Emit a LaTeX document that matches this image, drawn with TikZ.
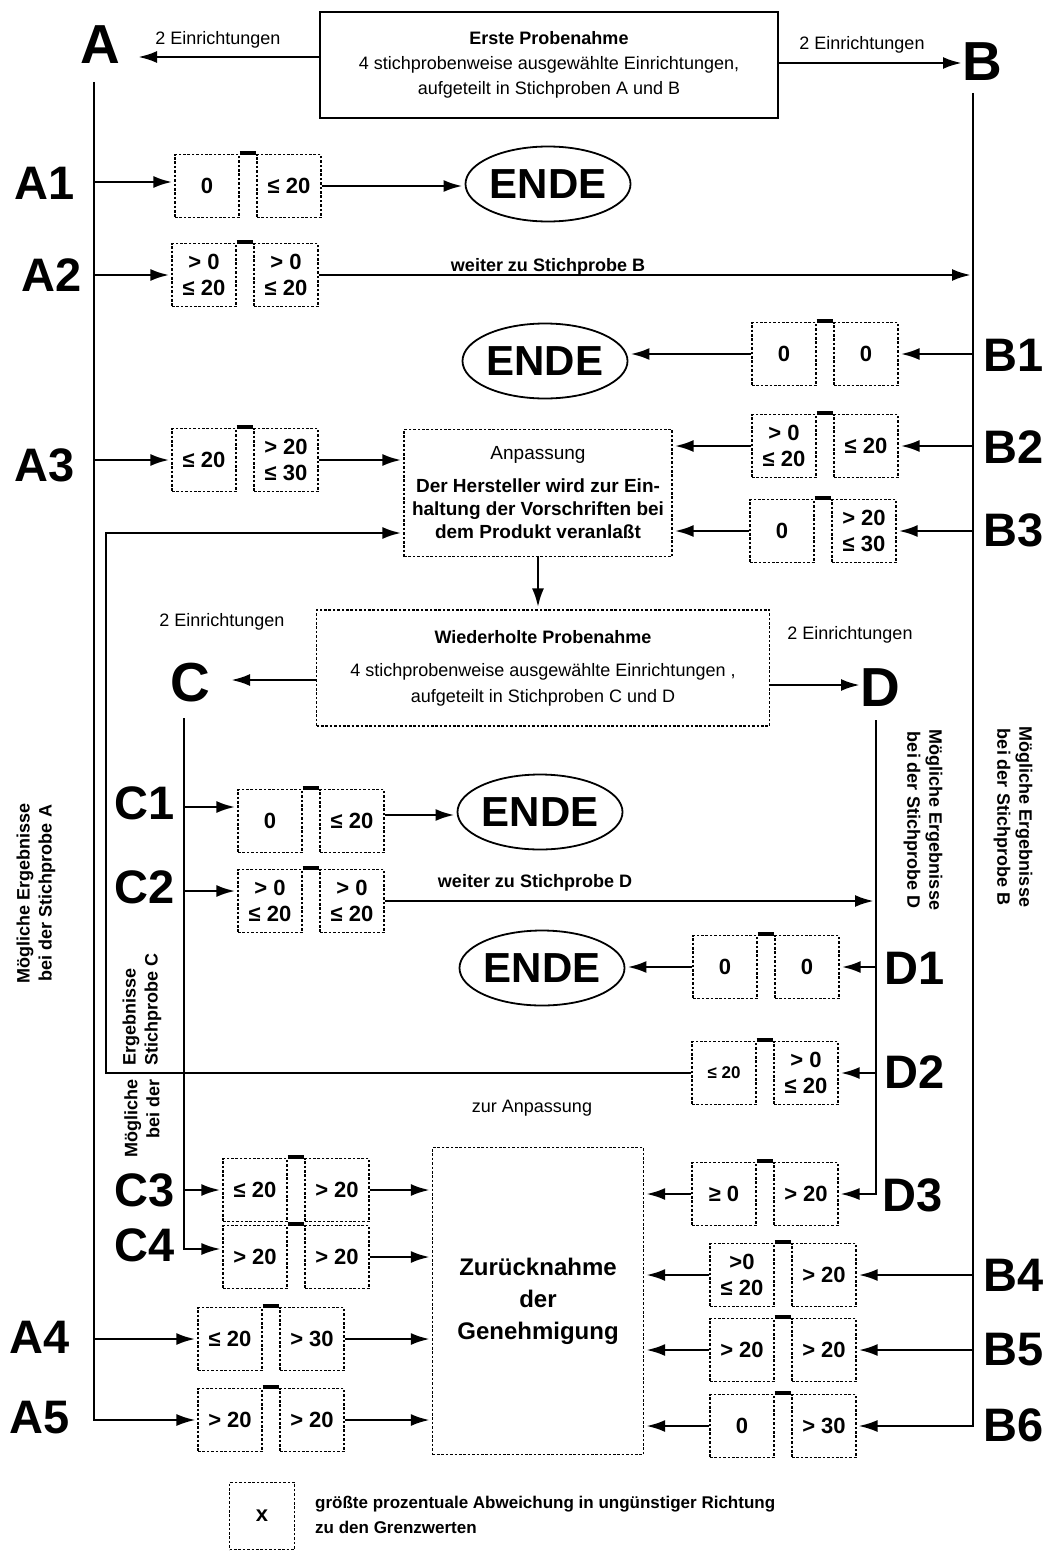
\documentclass[tikz,border=0pt]{standalone}
\usepackage{fontspec}
\setmainfont{Liberation Sans}
\usetikzlibrary{arrows.meta,shapes.geometric}
\tikzset{
  vbox/.style={draw, line width=1.2pt, dash pattern=on 2.6pt off 1.8pt, minimum width=64pt, minimum height=63pt, inner sep=0pt, align=center, font=\fontsize{22}{26}\selectfont\bfseries},
  bigbox/.style={draw, line width=1.2pt, dash pattern=on 2.6pt off 1.8pt, inner sep=0pt, align=center},
  bridge/.style={line width=3.2pt},
  arr/.style={line width=2.8pt, shorten >=2pt, -{Latex[length=19pt,width=12pt]}},
  lline/.style={line width=2.1pt, shorten >=2pt, -{Latex[length=19pt,width=12pt]}},
  letter/.style={inner sep=0pt, font=\fontsize{55}{55}\selectfont\bfseries},
  rowlbl/.style={inner sep=0pt, font=\fontsize{47}{47}\selectfont\bfseries},
  ende/.style={ellipse, draw, line width=1.8pt, minimum width=160pt, minimum height=75pt, inner sep=0pt, font=\fontsize{42}{42}\selectfont\bfseries},
  txt/.style={inner sep=0pt, align=center, font=\fontsize{18}{22}\selectfont},
  btxt/.style={inner sep=0pt, align=center, font=\fontsize{18}{22}\selectfont\bfseries},
  rtxt/.style={inner sep=0pt, font=\fontsize{18}{22}\selectfont\bfseries},
}
\newcommand\pairbox[5]{%
  \node[vbox] (#1l) at (#2+32,#3) {#4};
  \node[vbox] (#1r) at (#2+114,#3) {#5};
  \draw[bridge] ([yshift=1pt]#1l.north east) -- ([yshift=1pt]#1r.north west);
}
\begin{document}
\begin{tikzpicture}[x=1pt,y=-1pt]
\fill[white] (0,0) rectangle (1051,1552);
\useasboundingbox (0,0) rectangle (1051,1552);

% top box
\node[draw, line width=1.8pt, minimum width=458pt, minimum height=106pt, inner sep=0pt, align=center, font=\fontsize{18}{25}\selectfont] (erste) at (549,65)
  {\textbf{Erste Probenahme}\\4 stichprobenweise ausgewählte Einrichtungen,\\aufgeteilt in Stichproben A und B};
\node[letter] (A) at (100,45) {A};
\node[letter] (B) at (982,62) {B};
\node[txt] (l2a) at (218,40) {2 Einrichtungen};
\node[txt] (l2b) at (862,45) {2 Einrichtungen};
\coordinate (Atip) at (136,57);
\coordinate (Btip) at (964,63);
\draw[arr] (erste.west |- Atip) -- (Atip);
\draw[arr] (erste.east |- Btip) -- (Btip);

% main line anchors
\coordinate (Atop) at (94,82);
\coordinate (Btop) at (973,93);
\coordinate (Ctop) at (184,718);
\coordinate (Dtop) at (876,720);
\coordinate (Lx) at (106,533);

% row labels
\node[rowlbl] (A1) at (45,183) {A1};
\node[rowlbl] (A2) at (52,275) {A2};
\node[rowlbl] (A3) at (45,465) {A3};
\node[rowlbl] (A4) at (40,1337) {A4};
\node[rowlbl] (A5) at (40,1418) {A5};
\node[rowlbl] (B1) at (1014,355) {B1};
\node[rowlbl] (B2) at (1014,447) {B2};
\node[rowlbl] (B3) at (1014,530) {B3};
\node[rowlbl] (B4) at (1014,1275) {B4};
\node[rowlbl] (B5) at (1014,1350) {B5};
\node[rowlbl] (B6) at (1014,1425) {B6};
\node[rowlbl] (C1) at (145,803) {C1};
\node[rowlbl] (C2) at (145,887) {C2};
\node[rowlbl] (C3) at (145,1190) {C3};
\node[rowlbl] (C4) at (145,1245) {C4};
\node[rowlbl] (D1) at (915,968) {D1};
\node[rowlbl] (D2) at (915,1072) {D2};
\node[rowlbl] (D3) at (913,1195) {D3};

% pairs
\pairbox{a1}{175}{186}{0}{≤ 20}
\pairbox{a2}{172}{275}{> 0\\≤ 20}{> 0\\≤ 20}
\pairbox{b1}{752}{354}{0}{0}
\pairbox{b2}{752}{446}{> 0\\≤ 20}{≤ 20}
\pairbox{a3}{172}{460}{≤ 20}{> 20\\≤ 30}
\pairbox{b3}{750}{531}{0}{> 20\\≤ 30}
\pairbox{c1}{238}{821}{0}{≤ 20}
\pairbox{c2}{238}{901}{> 0\\≤ 20}{> 0\\≤ 20}
\pairbox{d1}{693}{967}{0}{0}
\pairbox{d2}{692}{1073}{{\fontsize{17}{20}\selectfont ≤ 20}}{> 0\\≤ 20}
\pairbox{c3}{223}{1190}{≤ 20}{> 20}
\pairbox{c4}{223}{1257}{> 20}{> 20}
\pairbox{d3}{692}{1194}{≥ 0}{> 20}
\pairbox{b4}{710}{1275}{>0\\≤ 20}{> 20}
\pairbox{b5}{710}{1350}{> 20}{> 20}
\pairbox{b6}{710}{1426}{0}{> 30}
\pairbox{a4}{198}{1339}{≤ 20}{> 30}
\pairbox{a5}{198}{1420}{> 20}{> 20}

% ENDE
\node[ende] (e1) at (548,184) {ENDE};
\node[ende] (e2) at (545,361) {ENDE};
\node[ende] (e3) at (540,812) {ENDE};
\node[ende] (e4) at (542,968) {ENDE};

% Anpassung
\node[bigbox, minimum width=268pt, minimum height=127pt, font=\fontsize{19}{23}\selectfont] (anp) at (538,493)
  {Anpassung\\[10pt]\textbf{Der Hersteller wird zur Ein-}\\\textbf{haltung der Vorschriften bei}\\\textbf{dem Produkt veranlaßt}};

% Wiederholte
\node[bigbox, minimum width=453pt, minimum height=116pt, font=\fontsize{18}{23}\selectfont] (wied) at (543,668)
  {\textbf{Wiederholte Probenahme}\\[10pt]4 stichprobenweise ausgewählte Einrichtungen ,\\[3pt]aufgeteilt in Stichproben C und D};
\node[letter] (C) at (190,683) {C};
\node[letter] (D) at (880,688) {D};
\node[txt] (l2c) at (222,622) {2 Einrichtungen};
\node[txt] (l2d) at (850,635) {2 Einrichtungen};
\coordinate (Ctip) at (229,680);
\coordinate (Dtip) at (862,685);
\draw[arr] (wied.west |- Ctip) -- (Ctip);
\draw[arr] (wied.east |- Dtip) -- (Dtip);

% Zuruecknahme
\node[bigbox, minimum width=211pt, minimum height=307pt, font=\fontsize{24}{32}\selectfont\bfseries] (zur) at (538,1301)
  {Zurücknahme\\der\\Genehmigung};

% texts
\node[btxt] (wB) at (548,267) {weiter zu Stichprobe B};
\node[btxt] (wD) at (535,883) {weiter zu Stichprobe D};
\node[txt] (zA) at (532,1108) {zur Anpassung};

% rotated labels
\node[btxt, rotate=90] (rA) at (36,893) {Mögliche Ergebnisse\\bei der Stichprobe A};
\node[btxt, rotate=-90] (rB) at (1013,817) {Mögliche Ergebnisse\\bei der Stichprobe B};
\node[btxt, rotate=-90] (rD) at (923,820) {Mögliche Ergebnisse\\bei der Stichprobe D};
\node[rtxt, rotate=90, anchor=west, align=left] (rC1) at (142,1066) {Ergebnisse\\Stichprobe C};
\node[rtxt, rotate=90, anchor=east, align=right] (rC2) at (142,1079) {Mögliche\\bei der};

% entry points shifted like the reference
\coordinate (c1in) at ([yshift=14pt]c1l.west);
\coordinate (c1out) at ([yshift=6pt]c1r.east);
\coordinate (c2in) at ([yshift=10pt]c2l.west);
\coordinate (c4in) at ([yshift=8pt]c4l.west);
\coordinate (a1in) at ([yshift=4pt]a1l.west);

% main lines
\draw[lline] (Atop) -- (Atop |- a5l.west) -- (a5l.west);
\draw[lline] (Btop) -- (Btop |- b6r.east) -- (b6r.east);
\draw[lline] (Ctop) -- (Ctop |- c4in) -- (c4in);
\draw[lline] (Dtop) -- (Dtop |- d3r.east) -- (d3r.east);

% row arrows
\draw[arr] (Atop |- a1in) -- (a1in);
\draw[arr] (a1r.east) -- (a1r.east -| e1.west);
\draw[arr] (Atop |- a2l.west) -- (a2l.west);
\draw[arr] (a2r.east) -- (a2r.east -| Btop);
\draw[arr] (Btop |- b1r.east) -- (b1r.east);
\draw[arr] (b1l.west) -- (b1l.west -| e2.east);
\draw[arr] (Btop |- b2r.east) -- (b2r.east);
\draw[arr] (b2l.west) -- (b2l.west -| anp.east);
\draw[arr] (Atop |- a3l.west) -- (a3l.west);
\draw[arr] (a3r.east) -- (a3r.east -| anp.west);
\draw[arr] (Btop |- b3r.east) -- (b3r.east);
\draw[arr] (b3l.west) -- (b3l.west -| anp.east);
\draw[arr] (d2l.west) -- (d2l.west -| Lx) -- (Lx) -- (Lx -| anp.west);
\draw[arr] (anp.south) -- (anp.south |- wied.north);
\draw[arr] (Ctop |- c1in) -- (c1in);
\draw[arr] (c1out) -- (c1out -| e3.west);
\draw[arr] (Ctop |- c2in) -- (c2in);
\draw[arr] (c2r.east) -- (c2r.east -| Dtop);
\draw[arr] (Dtop |- d1r.east) -- (d1r.east);
\draw[arr] (d1l.west) -- (d1l.west -| e4.east);
\draw[arr] (Dtop |- d2r.east) -- (d2r.east);
\draw[arr] (Ctop |- c3l.west) -- (c3l.west);
\draw[arr] (c3r.east) -- (c3r.east -| zur.west);
\draw[arr] (c4r.east) -- (c4r.east -| zur.west);
\draw[arr] (d3l.west) -- (d3l.west -| zur.east);
\draw[arr] (Btop |- b4r.east) -- (b4r.east);
\draw[arr] (b4l.west) -- (b4l.west -| zur.east);
\draw[arr] (Btop |- b5r.east) -- (b5r.east);
\draw[arr] (b5l.west) -- (b5l.west -| zur.east);
\draw[arr] (b6l.west) -- (b6l.west -| zur.east);
\draw[arr] (Atop |- a4l.west) -- (a4l.west);
\draw[arr] (a4r.east) -- (a4r.east -| zur.west);
\draw[arr] (a5r.east) -- (a5r.east -| zur.west);

% legend
\node[vbox, minimum width=65pt, minimum height=67pt] (leg) at (262,1516) {x};
\node[inner sep=0pt, anchor=west, align=left, font=\fontsize{17}{25}\selectfont\bfseries] (legt) at (315,1515)
  {größte prozentuale Abweichung in ungünstiger Richtung\\zu den Grenzwerten};
\end{tikzpicture}
\end{document}
